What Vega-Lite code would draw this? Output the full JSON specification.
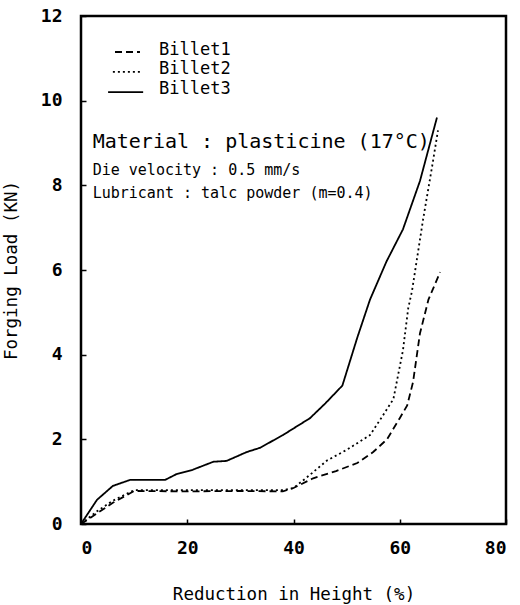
{
  "$schema": "https://vega.github.io/schema/vega-lite/v6.json",
  "width": 425,
  "height": 508,
  "autosize": {"type": "none"},
  "padding": {"left": 81, "top": 16, "right": 14, "bottom": 81},
  "background": "white",
  "config": {
    "view": {"stroke": "black", "strokeWidth": 2.5},
    "font": "DejaVu Sans Mono"
  },
  "datasets": {
    "curves": [
      {"series": "Billet1", "r": 0, "load": 0},
      {"series": "Billet1", "r": 3, "load": 0.25},
      {"series": "Billet1", "r": 6, "load": 0.5},
      {"series": "Billet1", "r": 10, "load": 0.78},
      {"series": "Billet1", "r": 20, "load": 0.77},
      {"series": "Billet1", "r": 30, "load": 0.78},
      {"series": "Billet1", "r": 38, "load": 0.77},
      {"series": "Billet1", "r": 40, "load": 0.85},
      {"series": "Billet1", "r": 43.7, "load": 1.08},
      {"series": "Billet1", "r": 48, "load": 1.25},
      {"series": "Billet1", "r": 52, "load": 1.44},
      {"series": "Billet1", "r": 55, "load": 1.7},
      {"series": "Billet1", "r": 57.6, "load": 2.0},
      {"series": "Billet1", "r": 60, "load": 2.5},
      {"series": "Billet1", "r": 61.4, "load": 2.8},
      {"series": "Billet1", "r": 62.5, "load": 3.35},
      {"series": "Billet1", "r": 63.8, "load": 4.5},
      {"series": "Billet1", "r": 65.4, "load": 5.3},
      {"series": "Billet1", "r": 67.6, "load": 5.95},
      {"series": "Billet2", "r": 0, "load": 0},
      {"series": "Billet2", "r": 3, "load": 0.3},
      {"series": "Billet2", "r": 6, "load": 0.55},
      {"series": "Billet2", "r": 10, "load": 0.8},
      {"series": "Billet2", "r": 20, "load": 0.8},
      {"series": "Billet2", "r": 30, "load": 0.8},
      {"series": "Billet2", "r": 38, "load": 0.8},
      {"series": "Billet2", "r": 40, "load": 0.85},
      {"series": "Billet2", "r": 43, "load": 1.15},
      {"series": "Billet2", "r": 46.3, "load": 1.5},
      {"series": "Billet2", "r": 50, "load": 1.75},
      {"series": "Billet2", "r": 54.4, "load": 2.1},
      {"series": "Billet2", "r": 56.5, "load": 2.5},
      {"series": "Billet2", "r": 58.8, "load": 2.95},
      {"series": "Billet2", "r": 60.6, "load": 4.1},
      {"series": "Billet2", "r": 61.6, "load": 5.1},
      {"series": "Billet2", "r": 62.3, "load": 5.5},
      {"series": "Billet2", "r": 64.4, "load": 7.2},
      {"series": "Billet2", "r": 66.1, "load": 8.45},
      {"series": "Billet2", "r": 67.2, "load": 9.3},
      {"series": "Billet3", "r": 0, "load": 0},
      {"series": "Billet3", "r": 3, "load": 0.57},
      {"series": "Billet3", "r": 6, "load": 0.9},
      {"series": "Billet3", "r": 9.2, "load": 1.04},
      {"series": "Billet3", "r": 15.8, "load": 1.04},
      {"series": "Billet3", "r": 18, "load": 1.18},
      {"series": "Billet3", "r": 21, "load": 1.28},
      {"series": "Billet3", "r": 24.9, "load": 1.47},
      {"series": "Billet3", "r": 27.4, "load": 1.49},
      {"series": "Billet3", "r": 31.2, "load": 1.7},
      {"series": "Billet3", "r": 33.7, "load": 1.8},
      {"series": "Billet3", "r": 38, "load": 2.1},
      {"series": "Billet3", "r": 43.1, "load": 2.5},
      {"series": "Billet3", "r": 46, "load": 2.85},
      {"series": "Billet3", "r": 49.2, "load": 3.27},
      {"series": "Billet3", "r": 52, "load": 4.4},
      {"series": "Billet3", "r": 54.4, "load": 5.3},
      {"series": "Billet3", "r": 57.5, "load": 6.2},
      {"series": "Billet3", "r": 60.6, "load": 6.96},
      {"series": "Billet3", "r": 63.8, "load": 8.1},
      {"series": "Billet3", "r": 67, "load": 9.6}
    ],
    "key": [
      {"series": "Billet1", "r1": 6.4, "r2": 11.1, "sy": 11.15, "tx": 14.7, "ty": 11.2},
      {"series": "Billet2", "r1": 6.0, "r2": 11.1, "sy": 10.68, "tx": 14.7, "ty": 10.74},
      {"series": "Billet3", "r1": 5.1, "r2": 11.7, "sy": 10.2, "tx": 14.7, "ty": 10.28}
    ],
    "notes": [
      {"r": 2.2, "load": 9.02, "txt": "Material : plasticine (17°C)", "big": 1},
      {"r": 2.2, "load": 8.36, "txt": "Die velocity : 0.5 mm/s", "big": 0},
      {"r": 2.2, "load": 7.82, "txt": "Lubricant : talc powder (m=0.4)", "big": 0}
    ]
  },
  "layer": [
    {
      "data": {"name": "curves"},
      "mark": {"type": "line", "strokeWidth": 1.8, "color": "black"},
      "encoding": {
        "x": {
          "field": "r", "type": "quantitative",
          "scale": {"domain": [0, 80], "nice": false, "zero": false},
          "axis": {
            "values": [0, 20, 40, 60, 80], "grid": false, "domain": false,
            "tickSize": -5, "tickColor": "black", "tickWidth": 1.5, "labelPadding": 20,
            "labelFont": "DejaVu Sans Mono", "labelFontSize": 18, "labelFontWeight": "bold", "labelColor": "black",
            "title": "Reduction in Height (%)", "titleFont": "DejaVu Sans Mono", "titleFontSize": 17.5,
            "titleFontWeight": "normal", "titleColor": "black", "titlePadding": 28
          }
        },
        "y": {
          "field": "load", "type": "quantitative",
          "scale": {"domain": [0, 12], "nice": false},
          "axis": {
            "values": [0, 2, 4, 6, 8, 10, 12], "grid": false, "domain": false,
            "tickSize": -5, "tickColor": "black", "tickWidth": 1.5, "labelPadding": 24,
            "labelFont": "DejaVu Sans Mono", "labelFontSize": 18, "labelFontWeight": "bold", "labelColor": "black",
            "title": "Forging Load (KN)", "titleFont": "DejaVu Sans Mono", "titleFontSize": 17.5,
            "titleFontWeight": "normal", "titleColor": "black", "titlePadding": 20
          }
        },
        "strokeDash": {
          "field": "series", "type": "nominal",
          "scale": {"domain": ["Billet1", "Billet2", "Billet3"], "range": [[7, 4], [2, 3], [1, 0]]},
          "legend": null
        }
      }
    },
    {
      "data": {"name": "key"},
      "mark": {"type": "rule", "strokeWidth": 1.8, "color": "black"},
      "encoding": {
        "x": {"field": "r1", "type": "quantitative"},
        "x2": {"field": "r2"},
        "y": {"field": "sy", "type": "quantitative"},
        "strokeDash": {"field": "series", "type": "nominal", "legend": null}
      }
    },
    {
      "data": {"name": "key"},
      "mark": {"type": "text", "align": "left", "baseline": "middle", "color": "black", "font": "DejaVu Sans Mono", "fontSize": 17},
      "encoding": {
        "x": {"field": "tx", "type": "quantitative"},
        "y": {"field": "ty", "type": "quantitative"},
        "text": {"field": "series"}
      }
    },
    {
      "data": {"name": "notes"},
      "mark": {"type": "text", "align": "left", "baseline": "middle", "color": "black", "font": "DejaVu Sans Mono"},
      "encoding": {
        "x": {"field": "r", "type": "quantitative"},
        "y": {"field": "load", "type": "quantitative"},
        "text": {"field": "txt"},
        "size": {"field": "big", "type": "nominal", "scale": {"domain": [0, 1], "range": [15, 20]}, "legend": null},
        "fontWeight": {"field": "big", "type": "nominal", "scale": {"domain": [0, 1], "range": ["bold", "normal"]}, "legend": null}
      }
    }
  ]
}
